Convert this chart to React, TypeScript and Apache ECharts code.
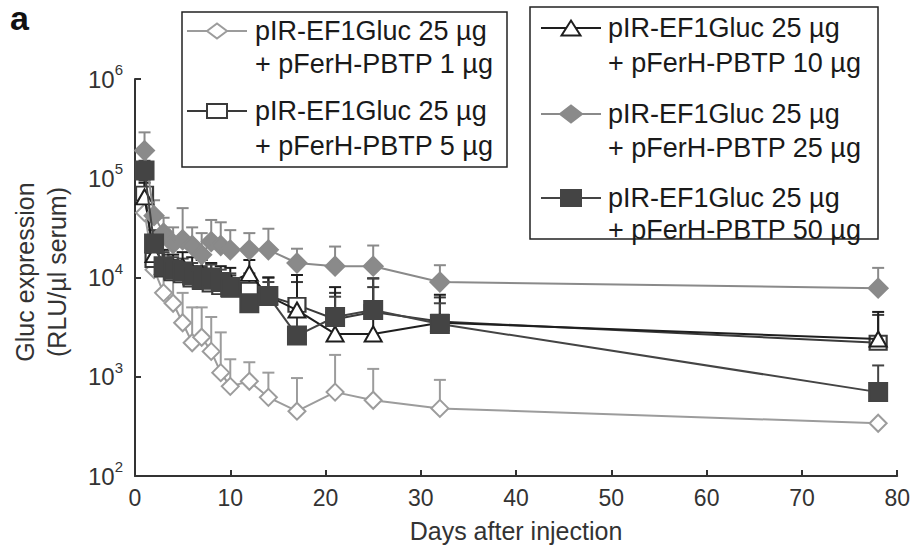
import React, { useEffect, useRef } from "react";
import * as echarts from "echarts";

const days = [1, 2, 3, 4, 5, 6, 7, 8, 9, 10, 12, 14, 17, 21, 25, 32, 78];
const xTicks = [0, 10, 20, 30, 40, 50, 60, 70, 80];
const yTicks = [100, 1000, 10000, 100000, 1000000];

// pIR-EF1Gluc 25 µg + pFerH-PBTP 1 µg (open diamond)
const s1 = [45000, 12000, 7000, 5500, 3500, 2200, 2500, 1800, 1100, 800, 900, 620, 450, 700, 580, 480, 340];
const s1Hi = [70000, 20000, 12000, 10000, 7000, 5000, 5000, 4000, 2800, 1500, 1400, 1100, 970, 1660, 1200, 930, 360];
// + 5 µg (open square)
const s2 = [70000, 15000, 12000, 11000, 10500, 9500, 9000, 8500, 8000, 7500, 7500, 6500, 5300, 3800, 4500, 3600, 2200];
const s2Hi = [95000, 22000, 17000, 15000, 14000, 13000, 12500, 12000, 11000, 10500, 11000, 10000, 9000, 7000, 8000, 6300, 4200];
// + 10 µg (open triangle)
const s3 = [65000, 17000, 13000, 12500, 13000, 11500, 11000, 10000, 9500, 9000, 11000, 6500, 4700, 2700, 2700, 3500, 2400];
const s3Hi = [90000, 25000, 19000, 17000, 18000, 16000, 15000, 14000, 13000, 12500, 15000, 10000, 10600, 8000, 9800, 6700, 4500];
// + 25 µg (filled diamond)
const s4 = [190000, 42000, 28000, 22000, 24000, 21000, 17000, 23000, 21000, 19000, 19000, 19000, 14000, 13000, 13000, 9000, 7800];
const s4Hi = [290000, 60000, 40000, 32000, 50000, 32000, 28000, 38000, 36000, 30000, 28000, 31000, 19500, 20500, 21000, 13300, 12500];
// + 50 µg (filled square)
const s5 = [120000, 22000, 13000, 12000, 11500, 10500, 9500, 10000, 9000, 8000, 5500, 6500, 2600, 4000, 4700, 3400, 700];
const s5Hi = [150000, 30000, 18000, 16000, 15500, 14000, 13000, 13500, 12000, 11000, 8000, 9000, 4000, 6400, 9800, 5500, 1300];

const legendTitle = "pIR-EF1Gluc 25 µg";
const legendSub = ["+ pFerH-PBTP 1 µg", "+ pFerH-PBTP 5 µg", "+ pFerH-PBTP 10 µg", "+ pFerH-PBTP 25 µg", "+ pFerH-PBTP 50 µg"];

const FONT = "'Liberation Sans', Arial, Helvetica, sans-serif";
const C1 = "#9c9c9c";
const C2 = "#3a3a3a";
const C3 = "#1e1e1e";
const C4 = "#8a8a8a";
const C5 = "#444444";

function pairs(ys: number[]) {
  return days.map((d, i) => [d, ys[i]]);
}
function errData(ys: number[], hi: number[]) {
  return days.map((d, i) => [d, ys[i], hi[i]]);
}

function errSeries(ys: number[], hi: number[], color: string) {
  return {
    type: "custom",
    data: errData(ys, hi),
    encode: { x: 0, y: [1, 2] },
    z: 1,
    silent: true,
    renderItem: (params: any, api: any) => {
      const x = api.value(0);
      const p0 = api.coord([x, api.value(1)]);
      const p1 = api.coord([x, api.value(2)]);
      return {
        type: "group",
        children: [
          { type: "line", shape: { x1: p0[0], y1: p0[1], x2: p1[0], y2: p1[1] }, style: { stroke: color, lineWidth: 2 } },
          { type: "line", shape: { x1: p1[0] - 6, y1: p1[1], x2: p1[0] + 6, y2: p1[1] }, style: { stroke: color, lineWidth: 2 } },
        ],
      };
    },
  };
}

function lineSeries(name: string, ys: number[], color: string, symbol: string, size: any, fill: string, z: number) {
  return {
    name,
    type: "line",
    data: pairs(ys),
    symbol,
    symbolSize: size,
    showAllSymbol: true,
    z,
    lineStyle: { color, width: 2 },
    itemStyle: { color: fill, borderColor: color, borderWidth: 2 },
  };
}

function legendEntry(cx: number, y1: number, y2: number, textX: number, sub: string, color: string, shape: any) {
  return [
    { type: "line", shape: { x1: cx - 30, y1, x2: cx + 30, y2: y1 }, style: { stroke: color, lineWidth: 2 } },
    shape,
    { type: "text", x: textX, y: y1, style: { text: legendTitle, fontSize: 27, fontFamily: FONT, fill: "#1a1a1a", verticalAlign: "middle", align: "left" } },
    { type: "text", x: textX, y: y2, style: { text: sub, fontSize: 27, fontFamily: FONT, fill: "#1a1a1a", verticalAlign: "middle", align: "left" } },
  ];
}

function diamond(cx: number, cy: number, w: number, h: number, fill: string, stroke: string) {
  return { type: "polygon", shape: { points: [[cx - w / 2, cy], [cx, cy - h / 2], [cx + w / 2, cy], [cx, cy + h / 2]] }, style: { fill, stroke, lineWidth: 2 } };
}
function square(cx: number, cy: number, w: number, h: number, fill: string, stroke: string) {
  return { type: "rect", shape: { x: cx - w / 2, y: cy - h / 2, width: w, height: h }, style: { fill, stroke, lineWidth: 2 } };
}
function triangle(cx: number, cy: number, w: number, h: number, fill: string, stroke: string) {
  return { type: "polygon", shape: { points: [[cx - w / 2, cy + h / 2], [cx, cy - h / 2], [cx + w / 2, cy + h / 2]] }, style: { fill, stroke, lineWidth: 2 } };
}

export default function App() {
  const ref = useRef<HTMLDivElement>(null);
  useEffect(() => {
    if (!ref.current) return;
    const chart = echarts.init(ref.current, null, { renderer: "svg" });
    const graphic: any[] = [
      { type: "text", x: 10, y: 18, style: { text: "a", fontSize: 34, fontWeight: "bold", fontFamily: FONT, fill: "#111", verticalAlign: "middle" } },
      {
        type: "text", x: 41, y: 272, rotation: Math.PI / 2,
        style: { text: "Gluc expression\n(RLU/µl serum)", fontSize: 25, lineHeight: 32, fontFamily: FONT, fill: "#333", align: "center", verticalAlign: "middle" },
      },
      { type: "text", x: 516, y: 531, style: { text: "Days after injection", fontSize: 25, fontFamily: FONT, fill: "#333", align: "center", verticalAlign: "middle" } },
      { type: "rect", shape: { x: 182, y: 12, width: 325, height: 155 }, style: { fill: "#fff", stroke: "#222", lineWidth: 1.5 }, z: 10 },
      { type: "rect", shape: { x: 530, y: 7, width: 348, height: 232 }, style: { fill: "#fff", stroke: "#222", lineWidth: 1.5 }, z: 10 },
    ];
    const entries = [
      ...legendEntry(217, 31, 64, 255, legendSub[0], C1, diamond(217, 31, 20, 15, "#fff", C1)),
      ...legendEntry(217, 111, 146, 255, legendSub[1], C2, square(217, 111, 20, 14, "#fff", C2)),
      ...legendEntry(571, 28, 63, 608, legendSub[2], C3, triangle(571, 28, 19, 15, "#fff", C3)),
      ...legendEntry(571, 114, 148, 608, legendSub[3], C4, diamond(571, 114, 22, 17, C4, C4)),
      ...legendEntry(571, 198, 230, 608, legendSub[4], C5, square(571, 198, 20, 16, C5, C5)),
    ];
    entries.forEach((e: any) => { e.z = 11; graphic.push(e); });

    chart.setOption({
      animation: false,
      backgroundColor: "#fff",
      grid: { left: 135, top: 79, right: 15, bottom: 74, containLabel: false },
      xAxis: {
        type: "value", min: 0, max: 80, interval: 10,
        axisLine: { show: true, lineStyle: { color: "#333", width: 2 } },
        axisTick: { show: true, inside: true, length: 6, lineStyle: { color: "#333", width: 2 } },
        axisLabel: { color: "#333", fontSize: 23, fontFamily: FONT, margin: 10, formatter: (v: number) => (xTicks.includes(v) ? String(v) : "") },
        splitLine: { show: false },
      },
      yAxis: {
        type: "log", logBase: 10, min: yTicks[0], max: yTicks[yTicks.length - 1],
        axisLine: { show: true, lineStyle: { color: "#333", width: 2 } },
        axisTick: { show: true, inside: true, length: 6, lineStyle: { color: "#333", width: 2 } },
        axisLabel: {
          color: "#333", fontFamily: FONT, margin: 12,
          formatter: (v: number) => `{b|10}{s|${Math.round(Math.log10(v))}}`,
          rich: {
            b: { fontSize: 24, fontFamily: FONT, color: "#333", lineHeight: 34 },
            s: { fontSize: 15, fontFamily: FONT, color: "#333", verticalAlign: "top" },
          },
        },
        splitLine: { show: false },
        minorTick: { show: false },
      },
      series: [
        errSeries(s1, s1Hi, C1),
        errSeries(s2, s2Hi, C2),
        errSeries(s3, s3Hi, C3),
        errSeries(s4, s4Hi, C4),
        errSeries(s5, s5Hi, C5),
        lineSeries("1 µg", s1, C1, "diamond", [17, 17], "#fff", 3),
        lineSeries("5 µg", s2, C2, "rect", [17, 14], "#fff", 4),
        lineSeries("10 µg", s3, C3, "triangle", [17, 15], "#fff", 5),
        lineSeries("25 µg", s4, C4, "diamond", [19, 19], C4, 6),
        lineSeries("50 µg", s5, C5, "rect", [18, 18], C5, 7),
      ],
      graphic,
    });
    return () => chart.dispose();
  }, []);
  return <div ref={ref} style={{ position: "fixed", left: 0, top: 0, width: 913, height: 550 }} />;
}
